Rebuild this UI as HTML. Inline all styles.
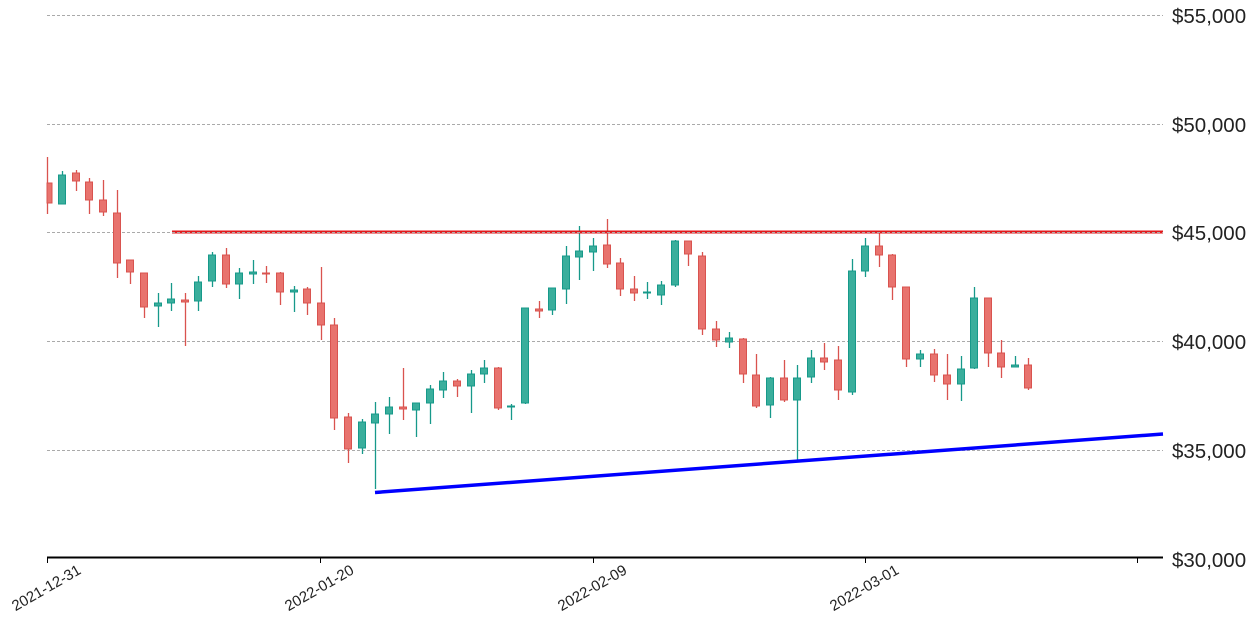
<!DOCTYPE html>
<html><head><meta charset="utf-8"><style>
html,body{margin:0;padding:0;background:#fff;}
svg{display:block;font-family:"Liberation Sans",sans-serif;}
</style></head><body>
<svg id="s" width="1259" height="628" xmlns="http://www.w3.org/2000/svg">
<g stroke="#aaa" stroke-width="1" stroke-dasharray="3,2">
<line x1="47" y1="15.5" x2="1163" y2="15.5"/>
<line x1="47" y1="124.5" x2="1163" y2="124.5"/>
<line x1="47" y1="232.5" x2="1163" y2="232.5"/>
<line x1="47" y1="341.5" x2="1163" y2="341.5"/>
<line x1="47" y1="450.5" x2="1163" y2="450.5"/>
</g>
<g id="c"></g>
<line x1="172" y1="232" x2="1163" y2="232" stroke="#e31a1c" stroke-width="3"/>
<line x1="172" y1="232.5" x2="1163" y2="232.5" stroke="#aaa" stroke-width="1" stroke-dasharray="3,2"/>
<line x1="375" y1="492.5" x2="1163" y2="434" stroke="#0000ff" stroke-width="3.5"/>
<line x1="47" y1="557.5" x2="1163" y2="557.5" stroke="#000" stroke-width="2"/>
<g stroke="#000" stroke-width="1">
<line x1="47.5" y1="558" x2="47.5" y2="563"/><line x1="320.5" y1="558" x2="320.5" y2="563"/><line x1="593.5" y1="558" x2="593.5" y2="563"/><line x1="865.5" y1="558" x2="865.5" y2="563"/><line x1="1137.5" y1="558" x2="1137.5" y2="563"/>
</g>
<g font-size="20.5" fill="#222">
<text x="1172" y="23">$55,000</text><text x="1172" y="132">$50,000</text><text x="1172" y="240">$45,000</text><text x="1172" y="349">$40,000</text><text x="1172" y="458">$35,000</text><text x="1172" y="567">$30,000</text>
</g>
<g font-size="15" fill="#222" text-anchor="end">
<text transform="translate(82,573) rotate(-30)">2021-12-31</text>
<text transform="translate(355,573) rotate(-30)">2022-01-20</text>
<text transform="translate(628,573) rotate(-30)">2022-02-09</text>
<text transform="translate(900,573) rotate(-30)">2022-03-01</text>
</g>
</svg>
<script>
var d=[[47,183,203,157,214,0],[62,175,204,171,204,1],[76,173,181,170,191,0],[89,182,200,178,214,0],[103,200,212,180,216,0],[117,213,263,190,278,0],[130,260,272,260,284,0],[144,273,307,273,318,0],[158,303,306,293,327,1],[171,299,303,283,311,1],[185,300,302,293,346,0],[198,282,301,276,311,1],[212,255,281,252,287,1],[226,255,284,248,288,0],[239,273,284,268,299,1],[253,272,274,260,284,1],[266,273,274,266,283,0],[280,273,292,272,305,0],[294,290,292,286,312,1],[307,289,303,287,315,0],[321,303,325,267,340,0],[334,325,418,318,430,0],[348,417,449,413,463,0],[362,422,448,419,454,1],[375,414,423,402,489,1],[389,407,414,397,434,1],[403,407,409,368,420,0],[416,403,410,403,437,1],[430,389,403,385,424,1],[443,381,390,372,398,1],[457,381,386,379,397,0],[471,374,386,370,413,1],[484,368,374,360,383,1],[498,368,408,367,410,0],[511,406,407,404,420,1],[525,308,403,308,404,1],[539,309,311,301,318,0],[552,288,310,288,315,1],[566,256,289,246,304,1],[579,251,257,226,280,1],[593,246,252,238,271,1],[607,245,264,219,268,0],[620,263,289,258,296,0],[634,289,293,276,301,0],[647,292,293,282,299,1],[661,285,295,281,305,1],[675,241,285,240,287,1],[688,241,254,241,266,0],[702,256,329,252,335,0],[716,329,340,321,347,0],[729,338,342,332,348,1],[743,339,374,338,383,0],[756,375,406,354,408,0],[770,378,405,377,418,1],[784,378,400,360,402,0],[797,378,400,365,462,1],[811,358,377,350,383,1],[824,358,362,343,370,0],[838,360,390,346,400,0],[852,271,392,259,395,1],[865,246,271,238,277,1],[879,246,255,232,267,0],[892,255,287,254,300,0],[906,287,359,287,367,0],[920,354,359,350,367,1],[934,354,375,349,382,0],[947,375,384,354,400,0],[961,369,384,356,401,1],[974,298,368,287,369,1],[988,298,353,298,367,0],[1001,353,367,340,378,0],[1015,365,367,356,367,1],[1028,365,388,358,390,0]];
var g=document.getElementById('c'),h='';
d.forEach(function(c){var f=c[5]?'#3aae9c':'#e8736e',s=c[5]?'#17998a':'#d9534f';
var x0=c[0]-3.5;if(c[0]==47)x0=47;var w=c[0]==47?5:7;
h+='<line x1="'+(c[0]+0.5)+'" y1="'+c[3]+'" x2="'+(c[0]+0.5)+'" y2="'+c[4]+'" stroke="'+s+'" stroke-width="1.3"/>';
h+='<rect x="'+x0+'" y="'+c[1]+'" width="'+w+'" height="'+Math.max(1,c[2]-c[1])+'" fill="'+f+'" stroke="'+s+'" stroke-width="1"/>';});
g.innerHTML=h;
</script>
</body></html>
